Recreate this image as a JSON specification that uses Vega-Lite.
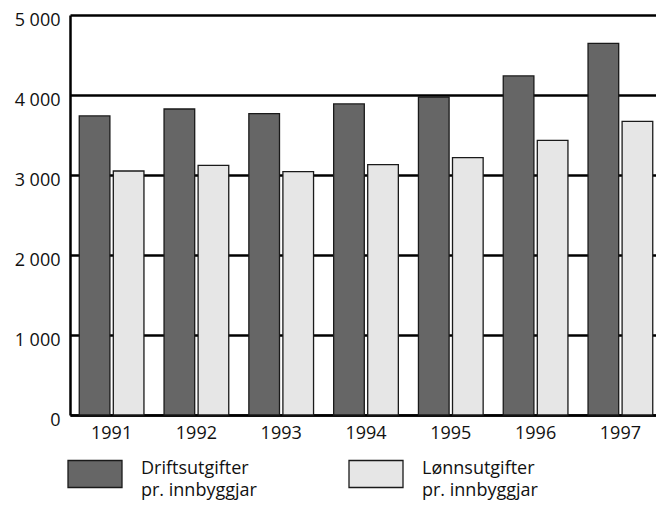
{
  "$schema": "https://vega.github.io/schema/vega-lite/v6.json",
  "width": 586,
  "height": 400,
  "autosize": {"type": "none"},
  "padding": {"left": 70, "top": 15, "right": 0, "bottom": 91},
  "background": "white",
  "config": {
    "view": {"stroke": null},
    "font": "Open Sans",
    "axis": {"labelFont": "Open Sans", "labelFontSize": 18, "labelColor": "#111"},
    "style": {"guide-label": {"lineHeight": 22}}
  },
  "data": {
    "values": [
      {"year": "1991", "series": "Driftsutgifter", "value": 3738},
      {"year": "1991", "series": "Lønnsutgifter", "value": 3050},
      {"year": "1992", "series": "Driftsutgifter", "value": 3825},
      {"year": "1992", "series": "Lønnsutgifter", "value": 3121},
      {"year": "1993", "series": "Driftsutgifter", "value": 3766},
      {"year": "1993", "series": "Lønnsutgifter", "value": 3041},
      {"year": "1994", "series": "Driftsutgifter", "value": 3888},
      {"year": "1994", "series": "Lønnsutgifter", "value": 3129},
      {"year": "1995", "series": "Driftsutgifter", "value": 3975},
      {"year": "1995", "series": "Lønnsutgifter", "value": 3216},
      {"year": "1996", "series": "Driftsutgifter", "value": 4238},
      {"year": "1996", "series": "Lønnsutgifter", "value": 3434},
      {"year": "1997", "series": "Driftsutgifter", "value": 4646},
      {"year": "1997", "series": "Lønnsutgifter", "value": 3671}
    ]
  },
  "mark": {"type": "bar", "stroke": "#1a1a1a", "strokeWidth": 1.3},
  "encoding": {
    "x": {
      "field": "year",
      "type": "nominal",
      "scale": {"paddingInner": 0.237, "paddingOuter": 0.0737, "align": 0.74},
      "axis": {
        "title": null,
        "labelAngle": 0,
        "ticks": false,
        "domain": true,
        "domainColor": "black",
        "domainWidth": 2.5,
        "labelPadding": 9,
        "labelBaseline": "top"
      }
    },
    "xOffset": {
      "field": "series",
      "type": "nominal",
      "scale": {"domain": ["Driftsutgifter", "Lønnsutgifter"], "paddingInner": 0.1}
    },
    "y": {
      "field": "value",
      "type": "quantitative",
      "scale": {"domain": [0, 5000], "nice": false},
      "axis": {
        "title": null,
        "values": [0, 1000, 2000, 3000, 4000, 5000],
        "labelExpr": "replace(format(datum.value, ','), ',', ' ')",
        "grid": true,
        "gridColor": "black",
        "gridWidth": 2.3,
        "gridOpacity": 1,
        "ticks": false,
        "domain": true,
        "domainColor": "black",
        "domainWidth": 2.5,
        "labelPadding": 10,
        "labelOffset": 5
      }
    },
    "fill": {
      "field": "series",
      "type": "nominal",
      "scale": {"domain": ["Driftsutgifter", "Lønnsutgifter"], "range": ["#666666", "#e6e6e6"]},
      "legend": {
        "title": null,
        "orient": "none",
        "legendX": -3,
        "legendY": 431,
        "direction": "horizontal",
        "columns": 2,
        "columnPadding": 89,
        "symbolType": "M-1,-0.5H1V0.5H-1Z",
        "symbolSize": 2916,
        "symbolStrokeColor": "#1a1a1a",
        "symbolStrokeWidth": 1.3,
        "symbolOpacity": 1,
        "labelFont": "Open Sans",
        "labelFontSize": 18,
        "labelBaseline": "alphabetic",
        "labelColor": "#111",
        "labelOffset": 18,
        "labelLimit": 300,
        "labelExpr": "datum.label == 'Driftsutgifter' ? ['Driftsutgifter', 'pr. innbyggjar'] : ['Lønnsutgifter', 'pr. innbyggjar']"
      }
    }
  }
}
